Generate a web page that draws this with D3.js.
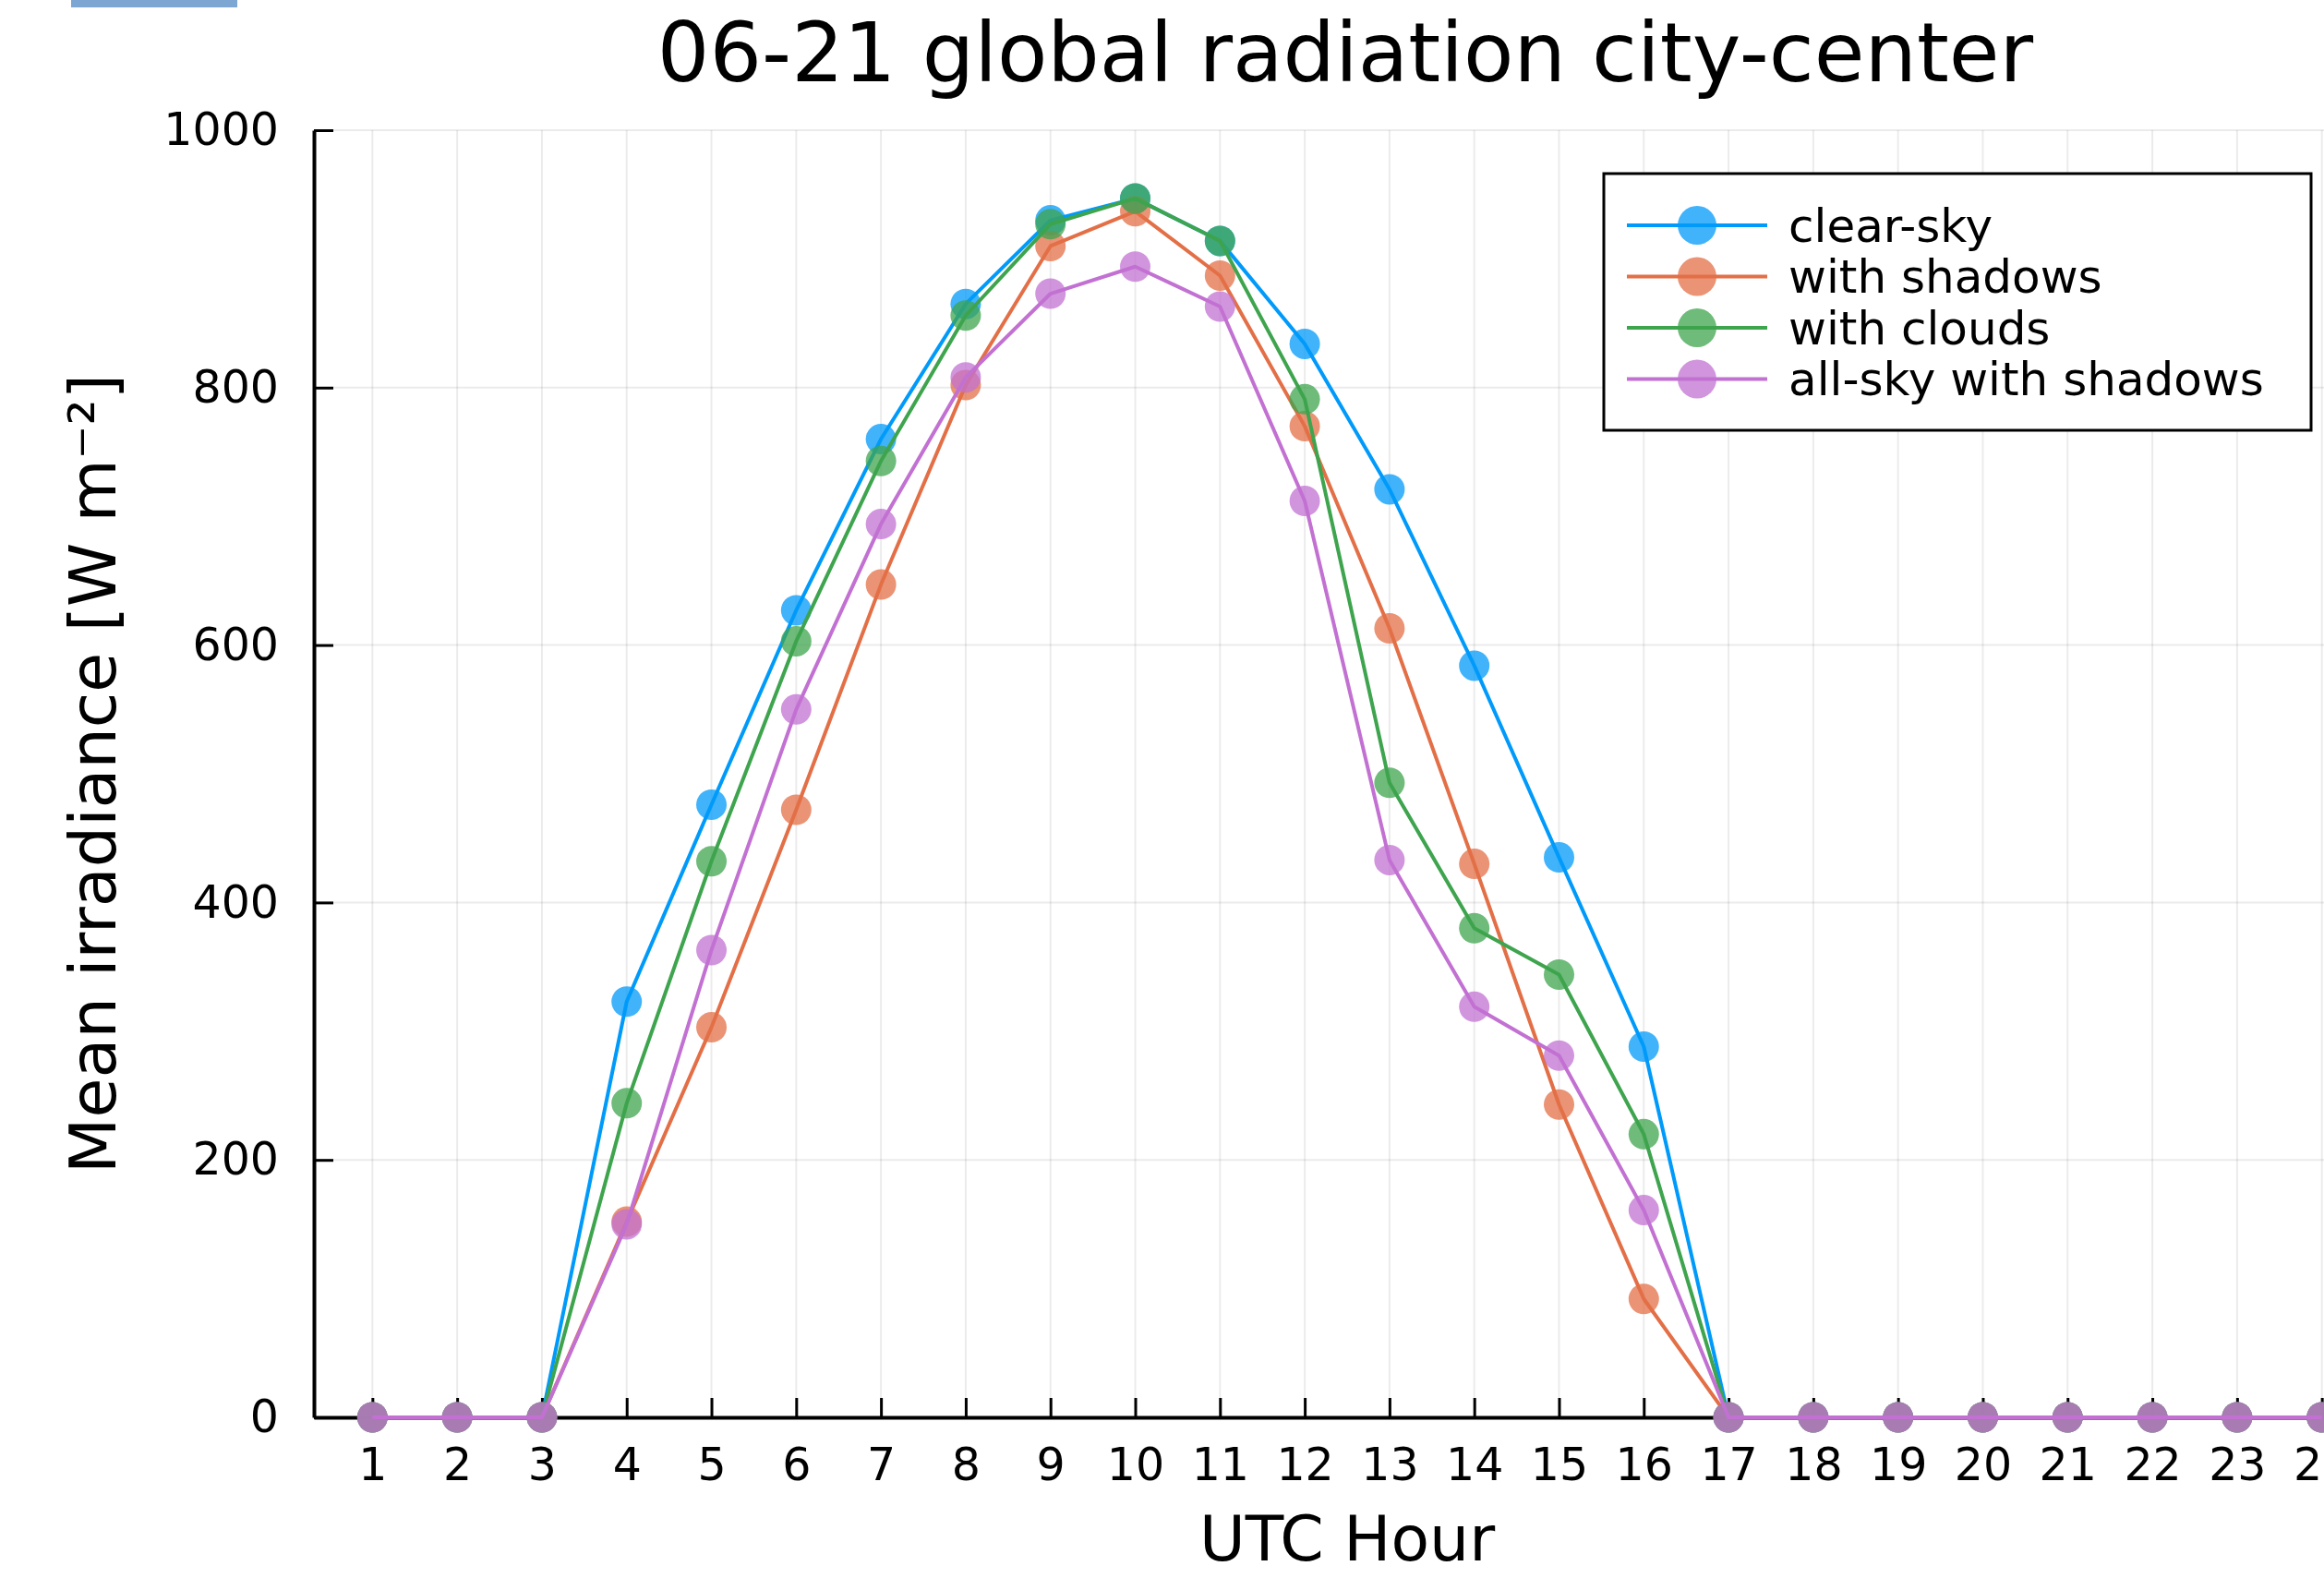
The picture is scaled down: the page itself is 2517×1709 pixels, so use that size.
<!DOCTYPE html>
<html>
<head>
<meta charset="utf-8">
<script src="https://cdn.jsdelivr.net/npm/d3@7"></script>
<style>
	body { margin: 0; background: #fff; }
	svg { display: block; font-family: "DejaVu Sans", sans-serif; }
</style>
</head>
<body>
<div id="chart"></div>
<script>
// data
var hours = [1, 2, 3, 4, 5, 6, 7, 8, 9, 10, 11, 12, 13, 14, 15, 16, 17, 18, 19, 20, 21, 22, 23, 24];
var clearSky = [0, 0, 0, 323, 476, 627, 760, 865, 930, 947, 914, 834, 721, 584, 435, 288, 0, 0, 0, 0, 0, 0, 0, 0];
var withShadows = [0, 0, 0, 152, 303, 472, 647, 802, 910, 937, 887, 770, 613, 430, 243, 92, 0, 0, 0, 0, 0, 0, 0, 0];
var withClouds = [0, 0, 0, 244, 432, 603, 743, 856, 927, 947, 914, 791, 493, 380, 344, 220, 0, 0, 0, 0, 0, 0, 0, 0];
var allSky = [0, 0, 0, 150, 363, 550, 694, 808, 873, 894, 863, 712, 433, 319, 281, 161, 0, 0, 0, 0, 0, 0, 0, 0];
var seriesNames = ["clear-sky", "with shadows", "with clouds", "all-sky with shadows"];
var seriesColors = ["#009afa", "#e36f47", "#3ea44e", "#c271d2"];
var yTicks = [0, 200, 400, 600, 800, 1000];

var series = [clearSky, withShadows, withClouds, allSky].map((vals, i) => ({
	name: seriesNames[i],
	color: seriesColors[i],
	values: vals.map((v, j) => ({ hour: hours[j], value: v }))
}));

var width = 2517, height = 1709;
var plot = { left: 340, right: 2578, top: 141, bottom: 1535 };

var svg = d3.select("#chart")
	.append("svg")
	.attr("width", width)
	.attr("height", height);

// small blue strip in the top left corner
svg.append("rect")
	.attr("x", 77).attr("y", 0)
	.attr("width", 180).attr("height", 8)
	.attr("fill", "#7ea6d2");

// Plots.jl style: 3% widening on x
var pad = (d3.max(hours) - d3.min(hours)) * 0.03;
var x = d3.scaleLinear()
	.domain([d3.min(hours) - pad, d3.max(hours) + pad])
	.range([plot.left, plot.right]);

var y = d3.scaleLinear()
	.domain([0, 1000])
	.range([plot.bottom, plot.top]);

// grid
var grid = svg.append("g")
	.attr("stroke", "#000")
	.attr("stroke-opacity", 0.08)
	.attr("stroke-width", 2);
grid.selectAll(".vg")
	.data(hours)
	.join("line")
	.attr("x1", d => x(d)).attr("x2", d => x(d))
	.attr("y1", plot.top).attr("y2", plot.bottom);
grid.selectAll(".hg")
	.data(yTicks)
	.join("line")
	.attr("x1", plot.left).attr("x2", plot.right)
	.attr("y1", d => y(d)).attr("y2", d => y(d));

// axes
var xAxis = svg.append("g")
	.attr("transform", "translate(0," + plot.bottom + ")")
	.call(d3.axisBottom(x).tickValues(hours).tickFormat(d3.format("d"))
		.tickSizeInner(-21).tickSizeOuter(0).tickPadding(33));

var yAxis = svg.append("g")
	.attr("transform", "translate(" + plot.left + ",0)")
	.call(d3.axisLeft(y).tickValues(yTicks).tickFormat(d3.format("d"))
		.tickSizeInner(-21).tickSizeOuter(0).tickPadding(38));

[xAxis, yAxis].forEach(ax => {
	ax.select(".domain").attr("stroke", "#000").attr("stroke-width", 4);
	ax.selectAll(".tick line").attr("stroke", "#000").attr("stroke-width", 3);
	ax.selectAll(".tick text")
		.attr("fill", "#000")
		.style("font-family", "DejaVu Sans")
		.style("font-size", "49px");
});

// series
var line = d3.line()
	.x(d => x(d.hour))
	.y(d => y(d.value));

series.forEach(s => {
	var g = svg.append("g");
	g.append("path")
		.datum(s.values)
		.attr("fill", "none")
		.attr("stroke", s.color)
		.attr("stroke-width", 4)
		.attr("stroke-linejoin", "round")
		.attr("d", line);
	g.selectAll("circle")
		.data(s.values)
		.join("circle")
		.attr("cx", d => x(d.hour))
		.attr("cy", d => y(d.value))
		.attr("r", 16.5)
		.attr("fill", s.color)
		.attr("fill-opacity", 0.75);
});

// title and labels
svg.append("text")
	.attr("x", (plot.left + plot.right) / 2 - 2)
	.attr("y", 88)
	.attr("text-anchor", "middle")
	.style("font-size", "89px")
	.text("06-21 global radiation city-center");

svg.append("text")
	.attr("x", (plot.left + plot.right) / 2)
	.attr("y", 1690)
	.attr("text-anchor", "middle")
	.style("font-size", "68px")
	.text("UTC Hour");

svg.append("text")
	.attr("transform", "translate(125," + (plot.top + plot.bottom) / 2 + ") rotate(-90)")
	.attr("text-anchor", "middle")
	.style("font-size", "70px")
	.text("Mean irradiance [W m\u207B\u00B2]");

// legend
var legend = svg.append("g").attr("transform", "translate(1737,188)");
legend.append("rect")
	.attr("width", 766).attr("height", 278)
	.attr("fill", "#fff")
	.attr("stroke", "#000")
	.attr("stroke-width", 3);

var item = legend.selectAll(".item")
	.data(series)
	.join("g")
	.attr("transform", (d, i) => "translate(0," + (56 + i * 55.5) + ")");
item.append("line")
	.attr("x1", 25).attr("x2", 177)
	.attr("stroke", d => d.color)
	.attr("stroke-width", 4);
item.append("circle")
	.attr("cx", 101)
	.attr("r", 21)
	.attr("fill", d => d.color)
	.attr("fill-opacity", 0.75);
item.append("text")
	.attr("x", 200)
	.attr("dy", "0.35em")
	.style("font-size", "50px")
	.text(d => d.name);
</script>
</body>
</html>
